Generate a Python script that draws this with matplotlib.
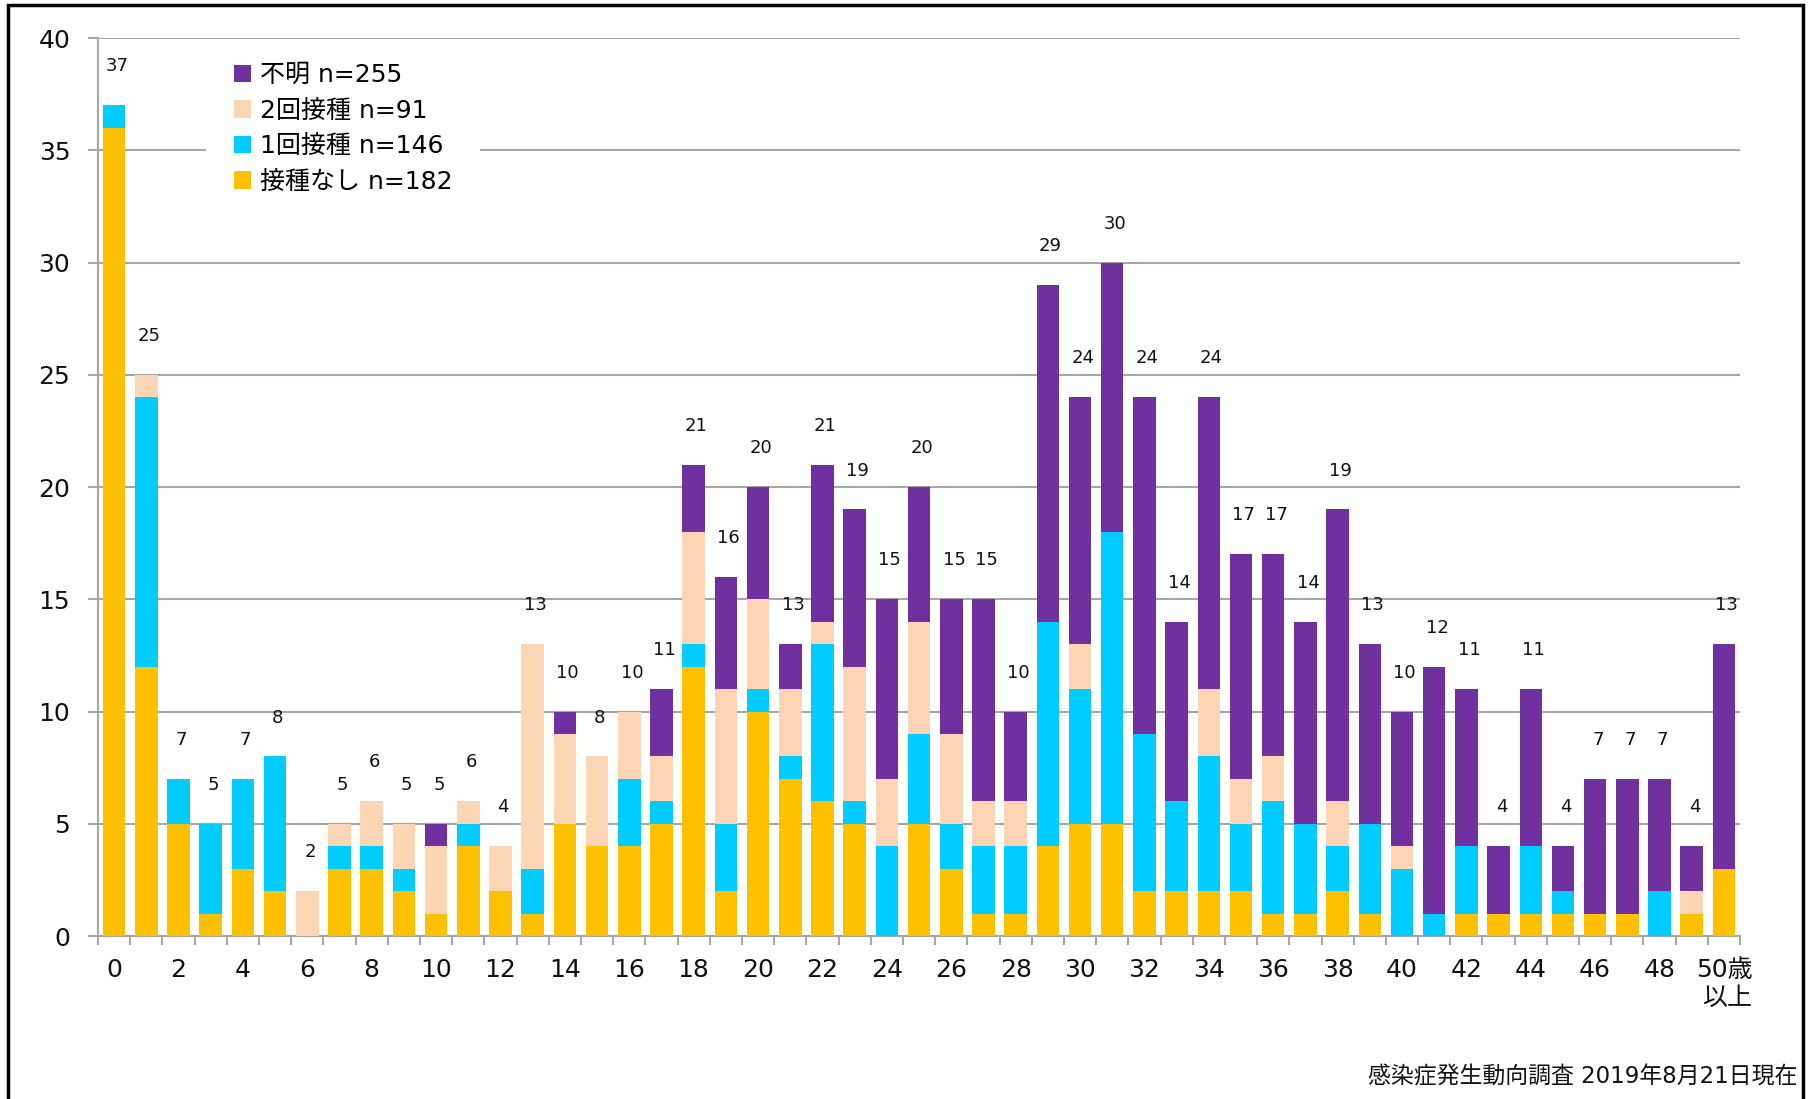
import matplotlib.pyplot as plt
import numpy as np
from matplotlib.patches import Rectangle

plt.rcParams['font.family'] = ['DejaVu Sans', 'Noto Sans CJK JP']

ages = list(range(51))
tick_labels = [str(a) if a < 50 else '50歳\n以上' for a in range(0, 51, 2)]

none_ = [36, 12, 5, 1, 3, 2, 0, 3, 3, 2, 1, 4, 2, 1, 5, 4, 4, 5, 12, 2, 10, 7, 6, 5, 0, 5,
         3, 1, 1, 4, 5, 5, 2, 2, 2, 2, 1, 1, 2, 1, 0, 0, 1, 1, 1, 1, 1, 1, 0, 1, 3]
once = [1, 12, 2, 4, 4, 6, 0, 1, 1, 1, 0, 1, 0, 2, 0, 0, 3, 1, 1, 3, 1, 1, 7, 1, 4, 4,
        2, 3, 3, 10, 6, 13, 7, 4, 6, 3, 5, 4, 2, 4, 3, 1, 3, 0, 3, 1, 0, 0, 2, 0, 0]
twice = [0, 1, 0, 0, 0, 0, 2, 1, 2, 2, 3, 1, 2, 10, 4, 4, 3, 2, 5, 6, 4, 3, 1, 6, 3, 5,
         4, 2, 2, 0, 2, 0, 0, 0, 3, 2, 2, 0, 2, 0, 1, 0, 0, 0, 0, 0, 0, 0, 0, 1, 0]
unknown = [0, 0, 0, 0, 0, 0, 0, 0, 0, 0, 1, 0, 0, 0, 1, 0, 0, 3, 3, 5, 5, 2, 7, 7, 8, 6,
           6, 9, 4, 15, 11, 12, 15, 8, 13, 10, 9, 9, 13, 8, 6, 11, 7, 3, 7, 2, 6, 6, 5, 2, 10]

series = [
    ('接種なし', none_, '#FFC000'),
    ('1回接種', once, '#00CCFF'),
    ('2回接種', twice, '#FCD5B5'),
    ('不明', unknown, '#7030A0'),
]

fig = plt.figure(figsize=(18.12, 10.99), dpi=100)
ax = fig.add_axes([0.0541, 0.1483, 0.9062, 0.8171])

x = np.array(ages)
bottom = np.zeros(len(ages))
handles = []
for name, vals, color in series:
    vals = np.array(vals)
    b = ax.bar(x, vals, 0.7, bottom=bottom, color=color, linewidth=0, zorder=3,
               label=f'{name} n={vals.sum()}')
    handles.append(b)
    bottom += vals

totals = bottom.astype(int)
for xi, t in zip(x, totals):
    ax.annotate(str(t), (xi, t), xytext=(2, 28), textcoords='offset points',
                ha='center', va='center', fontsize=13, color='#111111')

ax.set_xlim(-0.5, 50.5)
ax.set_ylim(0, 40)
ax.set_yticks(range(0, 41, 5))
ax.grid(axis='y', color='#A6A6A6', linewidth=1.5, zorder=0)
ax.set_axisbelow(True)

ax.set_xticks(range(0, 51, 2))
ax.set_xticklabels(tick_labels, fontsize=18, multialignment='right')
ax.set_xticks(np.arange(-0.5, 51, 1), minor=True)
ax.tick_params(axis='x', which='major', length=0, pad=16, colors='#111111')
ax.tick_params(axis='x', which='minor', length=6.5, width=1.5, color='#A6A6A6')
ax.tick_params(axis='y', length=7, width=1.5, color='#A6A6A6', labelsize=18,
               labelcolor='#111111', pad=13)

for s in ['top', 'right']:
    ax.spines[s].set_visible(False)
for s in ['left', 'bottom']:
    ax.spines[s].set_color('#A6A6A6')
    ax.spines[s].set_linewidth(1.5)

# white patch behind the legend, breaking the gridline like the original
fig.patches.append(Rectangle((0.1137, 0.82), 0.1512, 0.135, transform=fig.transFigure,
                             facecolor='white', edgecolor='none', zorder=2))

leg = fig.legend(handles[::-1], [h.get_label() for h in handles[::-1]],
                 loc='upper left', bbox_to_anchor=(0.1291, 0.9425), fontsize=18,
                 frameon=False, handlelength=0.68, handleheight=0.68,
                 handletextpad=0.36, labelspacing=0.46, borderpad=0,
                 borderaxespad=0)
leg.set_zorder(5)

fig.text(0.992, 0.02, '感染症発生動向調査 2019年8月21日現在', ha='right', va='center',
         fontsize=16.5, color='#111111')

fig.patches.append(Rectangle((0.0045, -0.01), 0.9905, 1.005, transform=fig.transFigure,
                             fill=False, edgecolor='black', linewidth=2.5))

fig.savefig('out.png', dpi=100)
